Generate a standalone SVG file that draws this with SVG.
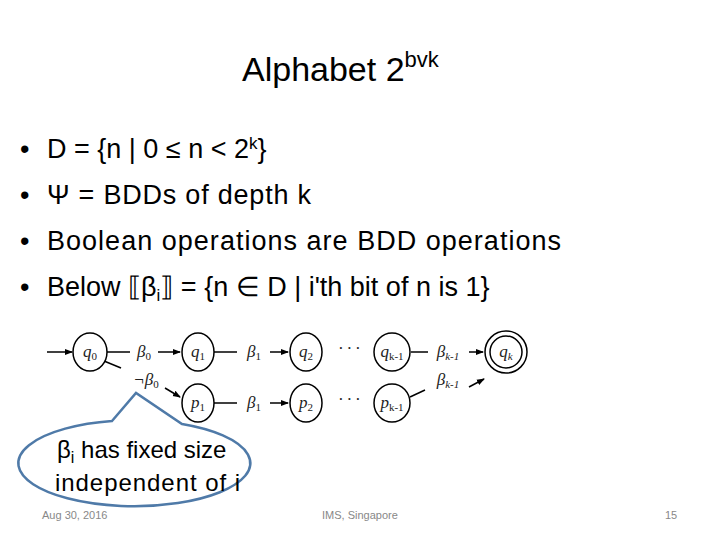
<svg xmlns="http://www.w3.org/2000/svg" width="720" height="540" viewBox="0 0 720 540">
<defs><marker id="a" markerWidth="8" markerHeight="8" refX="7" refY="4" orient="auto" markerUnits="userSpaceOnUse"><path d="M0,1 L8,4 L0,7 z" fill="#000"/></marker></defs>
<style>
.t{font-family:"Liberation Sans",Calibri,sans-serif;fill:#000}
.n ellipse{fill:#fff;stroke:#000;stroke-width:1.5}
.n text,.l{font-family:"Liberation Serif",serif;font-style:italic;font-size:17px;fill:#222;text-anchor:middle}
.c line{stroke:#000;stroke-width:1.5}
</style>
<rect width="720" height="540" fill="#fff"/>
<text class="t" x="242" y="81" font-size="34">Alphabet 2<tspan font-size="22" dy="-14">bvk</tspan></text>
<g class="t" font-size="27">
<text x="20" y="158">•</text><text x="47" y="158">D = {n | 0 ≤ n &lt; 2<tspan font-size="17" dy="-9">k</tspan><tspan dy="9">}</tspan></text>
<text x="20" y="204">•</text><text x="47" y="204" textLength="264" lengthAdjust="spacing">Ψ = BDDs of depth k</text>
<text x="20" y="250">•</text><text x="47" y="250" textLength="514" lengthAdjust="spacing">Boolean operations are BDD operations</text>
<text x="20" y="296">•</text><text x="47" y="296">Below  ⟦β<tspan font-size="17" dy="5">i</tspan><tspan dy="-5">⟧  = {n ∈ D | i'th bit of n is 1}</tspan></text>
</g>
<g class="c">
<line x1="47" y1="352" x2="72" y2="352" marker-end="url(#a)"/>
<line x1="107" y1="352" x2="130" y2="352"/><line x1="158" y1="352" x2="180" y2="352" marker-end="url(#a)"/>
<line x1="104" y1="361" x2="121" y2="368"/><line x1="165" y1="388" x2="180" y2="397" marker-end="url(#a)"/>
<line x1="214" y1="352" x2="237" y2="352"/><line x1="270" y1="352" x2="288" y2="352" marker-end="url(#a)"/>
<line x1="214" y1="403" x2="237" y2="403"/><line x1="270" y1="403" x2="288" y2="403" marker-end="url(#a)"/>
<line x1="411" y1="352" x2="428" y2="352"/><line x1="469" y1="352" x2="483" y2="352" marker-end="url(#a)"/>
<line x1="410" y1="397" x2="425" y2="390"/><line x1="469" y1="387" x2="484" y2="379" marker-end="url(#a)"/>
</g>
<g id="q0" class="n"><ellipse cx="90" cy="352" rx="17" ry="19"/><text x="90" y="357">q<tspan font-size="11" font-style="normal" dy="3">0</tspan></text></g>
<g id="q1" class="n"><ellipse cx="198" cy="352" rx="16" ry="19"/><text x="198" y="357">q<tspan font-size="11" font-style="normal" dy="3">1</tspan></text></g>
<g id="q2" class="n"><ellipse cx="306" cy="352" rx="16" ry="19"/><text x="306" y="357">q<tspan font-size="11" font-style="normal" dy="3">2</tspan></text></g>
<g id="qk1" class="n"><ellipse cx="392" cy="352" rx="18" ry="19"/><text x="392" y="357">q<tspan font-size="11" font-style="normal" dy="3">k-1</tspan></text></g>
<g id="qk" class="n"><ellipse cx="506" cy="352" rx="21" ry="21"/><ellipse cx="506" cy="352" rx="16" ry="16"/><text x="506" y="357">q<tspan font-size="11" dy="3">k</tspan></text></g>
<g id="p1" class="n"><ellipse cx="198" cy="403" rx="16" ry="19"/><text x="198" y="408">p<tspan font-size="11" font-style="normal" dy="3">1</tspan></text></g>
<g id="p2" class="n"><ellipse cx="306" cy="403" rx="16" ry="19"/><text x="306" y="408">p<tspan font-size="11" font-style="normal" dy="3">2</tspan></text></g>
<g id="pk1" class="n"><ellipse cx="392" cy="403" rx="18" ry="19"/><text x="392" y="408">p<tspan font-size="11" font-style="normal" dy="3">k-1</tspan></text></g>
<g class="l">
<text class="l" x="144" y="357">β<tspan font-size="11" font-style="normal" dy="3">0</tspan></text>
<text class="l" x="146" y="385">¬β<tspan font-size="11" font-style="normal" dy="3">0</tspan></text>
<text class="l" x="254" y="357">β<tspan font-size="11" font-style="normal" dy="3">1</tspan></text>
<text class="l" x="254" y="408">β<tspan font-size="11" font-style="normal" dy="3">1</tspan></text>
<text class="l" x="349" y="354">· · ·</text>
<text class="l" x="349" y="405">· · ·</text>
<text class="l" x="448" y="357">β<tspan font-size="11" dy="3">k-1</tspan></text>
<text class="l" x="448" y="385">β<tspan font-size="11" dy="3">k-1</tspan></text>
</g>
<g id="callout">
<path d="M112,421 L136,393 L182,424 A116,43 0 1 1 112,421 Z" fill="#fff" stroke="#4f7aa8" stroke-width="2.5"/>
<text class="t" x="57" y="458" font-size="24">β<tspan font-size="16" dy="5">i</tspan><tspan dy="-5"> has fixed size</tspan></text>
<text class="t" x="55" y="491" font-size="24" textLength="185" lengthAdjust="spacing">independent of i</text>
</g>
<g class="t" font-size="11">
<text x="42" y="519" fill="#888">Aug 30, 2016</text>
<text x="322" y="519" fill="#888">IMS, Singapore</text>
<text x="665" y="519" fill="#888">15</text>
</g>
</svg>
